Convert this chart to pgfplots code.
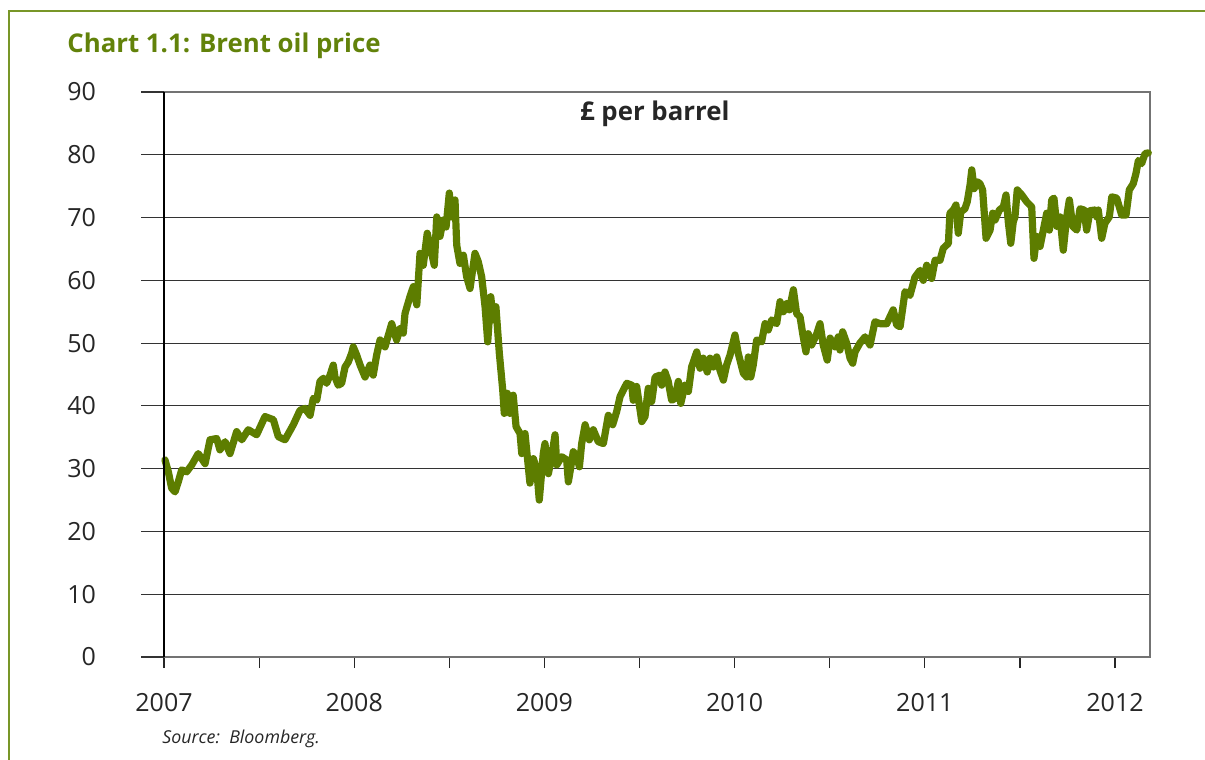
\documentclass[border=0pt]{standalone}
\usepackage{pgfplots}
\pgfplotsset{compat=1.18}
\usepackage{fontspec}
\setmainfont{Open Sans}
\definecolor{oilgreen}{RGB}{93,125,0}
\definecolor{titlegreen}{RGB}{98,130,10}
\definecolor{framegreen}{RGB}{120,150,40}
\begin{document}
\begin{tikzpicture}
\path[use as bounding box] (0,0) rectangle (602.5pt,-380pt);
\draw[framegreen, line width=0.8pt] (4.5pt,-381pt) -- (4.5pt,-5.5pt) -- (603pt,-5.5pt);
\node[anchor=base west, inner sep=0pt, text=titlegreen, font=\bfseries\fontsize{12.9}{15}\selectfont] at (33.5pt,-26.5pt) {Chart 1.1: Brent oil price};
\node[anchor=base west, inner sep=0pt, font=\itshape\fontsize{8.9}{10}\selectfont, text=black!85] at (81pt,-371.5pt) {Source:\ \ Bloomberg.};
\begin{axis}[
  at={(82pt,-46pt)}, anchor=north west,
  width=493pt, height=282.5pt, scale only axis,
  xmin=2007, xmax=2012.184, ymin=0, ymax=90,
  xtick={2007,2008,2009,2010,2011,2012},
  xticklabels={2007,2008,2009,2010,2011,2012},
  minor xtick={2007.5,2008.5,2009.5,2010.5,2011.5},
  ytick={0,10,...,90},
  xtick pos=bottom,
  tick align=outside,
  major tick length=5.5pt, minor tick length=5.5pt,
  xtick style={black!85, line width=0.6pt},
  ytick style={draw=none},
  ymajorgrids, grid style={black!80, line width=0.6pt},
  axis line style={black!55, line width=0.6pt},
  ticklabel style={font=\fontsize{12.5}{14}\selectfont, text=black!85},
  /pgf/number format/assume math mode=true,
  yticklabel style={xshift=-25pt},
  xticklabel style={yshift=-9pt},
  clip=false,
]
\addplot[oilgreen, line width=3.6pt, line join=round, line cap=round] coordinates {
(2007.005,31.4)(2007.023,29.5)(2007.040,26.9)(2007.058,26.3)(2007.075,27.9)(2007.093,29.8)
(2007.119,29.5)(2007.146,30.6)(2007.180,32.4)(2007.216,30.8)(2007.242,34.6)(2007.277,34.8)
(2007.294,33.0)(2007.321,34.3)(2007.347,32.4)(2007.382,35.9)(2007.409,34.6)(2007.443,36.2)
(2007.487,35.4)(2007.531,38.3)(2007.575,37.8)(2007.601,35.1)(2007.636,34.6)(2007.680,37.0)
(2007.715,39.3)(2007.741,39.6)(2007.768,38.5)(2007.785,41.2)(2007.803,40.9)(2007.820,43.9)
(2007.838,44.4)(2007.855,43.6)(2007.873,44.9)(2007.890,46.5)(2007.899,44.6)(2007.916,43.3)
(2007.934,43.6)(2007.952,46.2)(2007.969,47.0)(2007.987,48.4)(2007.995,49.4)(2008.013,48.1)
(2008.031,46.5)(2008.057,44.6)(2008.083,46.5)(2008.100,44.9)(2008.118,48.1)(2008.136,50.5)
(2008.162,49.4)(2008.197,53.1)(2008.223,50.5)(2008.241,52.3)(2008.258,51.6)(2008.267,54.7)
(2008.293,57.4)(2008.311,59.0)(2008.329,56.1)(2008.346,64.3)(2008.363,62.4)(2008.384,67.5)
(2008.399,65.4)(2008.421,62.4)(2008.434,70.1)(2008.451,67.0)(2008.468,69.6)(2008.483,68.5)
(2008.500,73.9)(2008.513,70.1)(2008.530,72.8)(2008.539,65.6)(2008.556,62.7)(2008.574,64.0)
(2008.591,60.6)(2008.609,58.7)(2008.635,64.3)(2008.652,63.0)(2008.670,60.6)(2008.688,55.8)
(2008.702,50.2)(2008.718,57.4)(2008.731,53.7)(2008.745,55.8)(2008.763,48.4)(2008.781,42.5)
(2008.789,38.8)(2008.805,42.0)(2008.819,38.8)(2008.836,41.7)(2008.851,36.7)(2008.872,35.6)
(2008.881,32.4)(2008.898,35.6)(2008.924,27.7)(2008.942,31.6)(2008.960,29.8)(2008.973,25.0)
(2008.994,32.4)(2009.003,34.0)(2009.021,29.2)(2009.038,31.9)(2009.056,35.4)(2009.065,30.6)
(2009.091,31.9)(2009.117,31.4)(2009.126,27.9)(2009.152,32.7)(2009.170,31.9)(2009.184,30.3)
(2009.196,34.0)(2009.214,37.0)(2009.236,34.6)(2009.257,36.2)(2009.283,34.3)(2009.310,34.0)
(2009.336,38.5)(2009.359,37.0)(2009.380,39.1)(2009.398,41.5)(2009.433,43.6)(2009.459,43.3)
(2009.467,40.9)(2009.485,43.1)(2009.512,37.5)(2009.529,38.3)(2009.546,42.8)(2009.564,40.7)
(2009.582,44.6)(2009.608,44.9)(2009.617,43.3)(2009.634,45.4)(2009.651,43.9)(2009.669,40.9)
(2009.687,41.2)(2009.704,43.9)(2009.717,40.4)(2009.739,43.3)(2009.757,42.3)(2009.774,46.2)
(2009.801,48.6)(2009.818,46.0)(2009.835,47.6)(2009.856,45.4)(2009.871,47.6)(2009.888,46.2)
(2009.906,47.8)(2009.923,45.7)(2009.941,44.1)(2009.958,46.5)(2009.976,48.1)(2010.002,51.3)
(2010.019,48.4)(2010.046,45.2)(2010.064,44.6)(2010.072,47.8)(2010.085,44.6)(2010.098,46.5)
(2010.116,50.5)(2010.142,50.2)(2010.160,53.1)(2010.177,52.1)(2010.195,53.7)(2010.221,53.1)
(2010.239,56.6)(2010.256,55.0)(2010.274,56.3)(2010.288,55.3)(2010.309,58.5)(2010.326,54.7)
(2010.344,54.2)(2010.358,51.5)(2010.375,48.6)(2010.387,51.5)(2010.405,49.7)(2010.432,51.5)
(2010.449,53.1)(2010.466,49.7)(2010.487,47.3)(2010.502,50.8)(2010.528,49.4)(2010.545,51.0)
(2010.554,48.9)(2010.568,51.8)(2010.589,50.0)(2010.607,47.6)(2010.621,46.8)(2010.633,48.6)
(2010.659,50.0)(2010.686,51.0)(2010.712,49.7)(2010.738,53.4)(2010.764,53.1)(2010.800,53.1)
(2010.834,55.3)(2010.852,52.9)(2010.870,52.6)(2010.896,58.2)(2010.922,57.6)(2010.948,60.5)
(2010.975,61.6)(2010.992,60.0)(2011.010,62.4)(2011.036,60.3)(2011.054,63.2)(2011.080,63.2)
(2011.097,65.1)(2011.124,65.9)(2011.132,70.7)(2011.150,71.2)(2011.164,72.0)(2011.176,67.5)
(2011.189,70.9)(2011.211,71.4)(2011.223,72.5)(2011.238,75.2)(2011.247,77.6)(2011.259,74.6)
(2011.276,75.7)(2011.290,75.4)(2011.304,74.4)(2011.322,66.7)(2011.343,68.0)(2011.357,70.7)
(2011.369,69.6)(2011.392,71.2)(2011.413,71.7)(2011.427,73.6)(2011.439,69.3)(2011.452,65.9)
(2011.465,69.3)(2011.474,70.1)(2011.486,74.4)(2011.510,73.6)(2011.536,72.5)(2011.562,71.7)
(2011.574,63.5)(2011.588,67.0)(2011.606,65.4)(2011.623,68.0)(2011.641,70.7)(2011.655,68.0)
(2011.667,72.8)(2011.679,73.1)(2011.694,68.6)(2011.711,70.1)(2011.728,64.8)(2011.746,70.1)
(2011.760,72.8)(2011.778,68.6)(2011.799,68.0)(2011.816,71.4)(2011.837,71.2)(2011.851,68.0)
(2011.869,71.1)(2011.895,71.2)(2011.904,70.1)(2011.912,71.2)(2011.930,66.7)(2011.947,69.1)
(2011.970,70.1)(2011.983,73.3)(2012.009,73.1)(2012.035,70.4)(2012.058,70.4)(2012.075,74.4)
(2012.096,75.4)(2012.110,77.0)(2012.123,79.1)(2012.140,78.6)(2012.149,79.4)(2012.158,80.2)
(2012.175,80.3)
};
\pgfplotsinvokeforeach{0,10,...,90}{\draw[black!80, line width=0.6pt] (axis cs:2007,#1) -- ([xshift=-11.5pt]axis cs:2007,#1);}
\draw[black, line width=0.7pt] (axis cs:2007,0) -- (axis cs:2007,90);
\node[font=\bfseries\fontsize{12.9}{15}\selectfont, text=black!85] at (axis cs:2009.58,86.6) {£ per barrel};
\end{axis}
\end{tikzpicture}
\end{document}
